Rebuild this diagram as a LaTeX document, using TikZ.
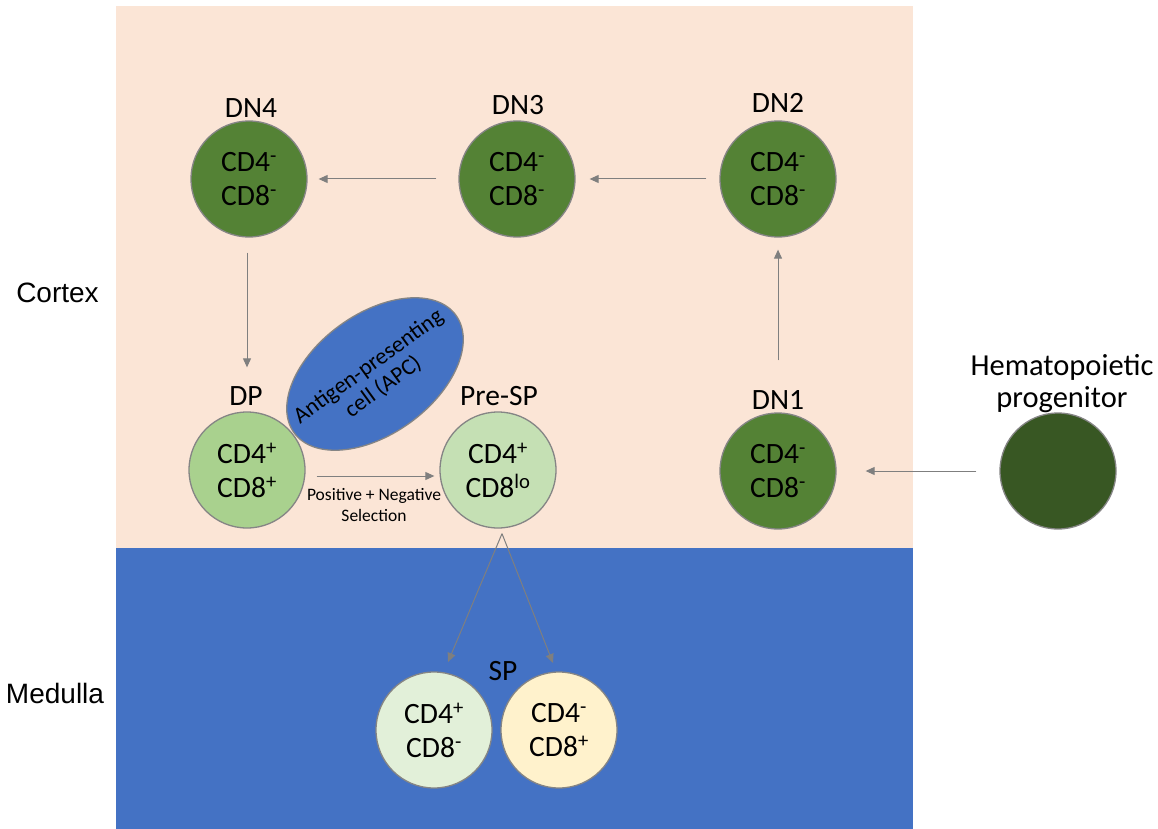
\documentclass[tikz,border=0pt]{standalone}
\usepackage{fontspec}
\setmainfont{Carlito}
\newfontfamily\arialfont{Liberation Sans}
\usetikzlibrary{shapes.geometric,arrows.meta}
\definecolor{cortexbg}{HTML}{FBE5D6}
\definecolor{medbg}{HTML}{4472C4}
\definecolor{apcblue}{HTML}{4472C4}
\definecolor{dngreen}{HTML}{548235}
\definecolor{hpgreen}{HTML}{385723}
\definecolor{dpgreen}{HTML}{A9D18E}
\definecolor{pregreen}{HTML}{C5E0B4}
\definecolor{spgreen}{HTML}{E2F0D9}
\definecolor{spyellow}{HTML}{FFF2CC}
\definecolor{edgegray}{HTML}{858585}
\definecolor{arrowgray}{HTML}{7F7F7F}
\tikzset{
  cell/.style={circle, draw=edgegray, line width=1.3pt, minimum size=116pt, inner sep=0pt, align=center, font=\fontsize{29.5}{34}\selectfont},
  stagelabel/.style={anchor=base, inner sep=0pt, font=\fontsize{29.5}{34}\selectfont},
  regionlabel/.style={anchor=base, inner sep=0pt, font=\arialfont\fontsize{28}{34}\selectfont},
  flow/.style={draw=arrowgray, line width=1pt, -{Triangle[length=9pt,width=8pt]}},
}
\begin{document}
\begin{tikzpicture}[x=1pt,y=-1pt]
\useasboundingbox (0,0) rectangle (1158,829);
% regions
\fill[cortexbg] (116,6) rectangle (913,548);
\fill[medbg] (116,548) rectangle (913,829);
\node[regionlabel] (cortex) at (57.5,302) {Cortex};
\node[regionlabel] (medulla) at (55,703) {Medulla};

% cells
\node[cell, fill=dngreen] (dn4) at (249,179) {CD4\textsuperscript{-}\\CD8\textsuperscript{-}};
\node[cell, fill=dngreen] (dn3) at (517,179) {CD4\textsuperscript{-}\\CD8\textsuperscript{-}};
\node[cell, fill=dngreen] (dn2) at (778,179) {CD4\textsuperscript{-}\\CD8\textsuperscript{-}};
\node[cell, fill=dngreen] (dn1) at (778,471) {CD4\textsuperscript{-}\\CD8\textsuperscript{-}};
\node[cell, fill=hpgreen] (hp) at (1058,471) {};
\node[cell, fill=dpgreen] (dp) at (247,470) {CD4\textsuperscript{+}\\CD8\textsuperscript{+}};
\node[cell, fill=pregreen] (presp) at (498,470) {CD4\textsuperscript{+}\\CD8\textsuperscript{lo}};
\node[cell, fill=spgreen] (spl) at (434,730) {CD4\textsuperscript{+}\\CD8\textsuperscript{-}};
\node[cell, fill=spyellow] (spr) at (559,730) {CD4\textsuperscript{-}\\CD8\textsuperscript{+}};

% APC
\node[ellipse, draw=edgegray, line width=1.3pt, fill=apcblue, minimum width=200pt, minimum height=120pt, inner sep=0pt, rotate=36] (apc) at (375,374) {};
\node[rotate=36, align=center, inner sep=0pt, font=\fontsize{23}{25}\selectfont] (apctext) at ([shift={(1,3)}]apc.center) {Antigen-presenting\\cell (APC)};

% stage labels
\node[stagelabel] (dn4lab) at (251,118) {DN4};
\node[stagelabel] (dn3lab) at (518,115) {DN3};
\node[stagelabel] (dn2lab) at (778,113) {DN2};
\node[stagelabel] (dn1lab) at (778,409) {DN1};
\node[stagelabel] (dplab) at (246,405) {DP};
\node[stagelabel] (presplab) at (499,405) {Pre-SP};
\node[stagelabel] (splab) at (503,680) {SP};
\node[stagelabel, font=\fontsize{30.5}{34}\selectfont] (hplab1) at (1062,375) {Hematopoietic};
\node[stagelabel, font=\fontsize{30.5}{34}\selectfont] (hplab2) at (1062,407) {progenitor};

\node[align=center, inner sep=0pt, font=\fontsize{17.5}{20.5}\selectfont] (sel) at (374,505) {Positive + Negative\\Selection};

% connectors
\draw[flow, shorten <=22pt, shorten >=11pt] (dn3) -- (dn4);
\draw[flow, shorten <=13pt, shorten >=14pt] (dn2) -- (dn3);
\draw[flow, shorten <=52pt, shorten >=12pt] (dn1) -- (dn2);
\draw[flow, shorten <=23pt, shorten >=29pt] (hp) -- (dn1);
\draw[flow, shorten <=15pt, shorten >=44pt] (dn4.south -| dp.center) -- (dp.north);
\draw[flow, shorten <=11pt, shorten >=5pt] ([yshift=-6pt]dp.east) -- ([yshift=-6pt]presp.west);
\coordinate (apex) at ([shift={(4,5)}]presp.south);
\coordinate (tipL) at ([shift={(14,-68)}]spl.center);
\coordinate (tipR) at ([shift={(-6,-67)}]spr.center);
\draw[flow] (apex) -- (tipL);
\draw[flow] (apex) -- (tipR);
\end{tikzpicture}
\end{document}
